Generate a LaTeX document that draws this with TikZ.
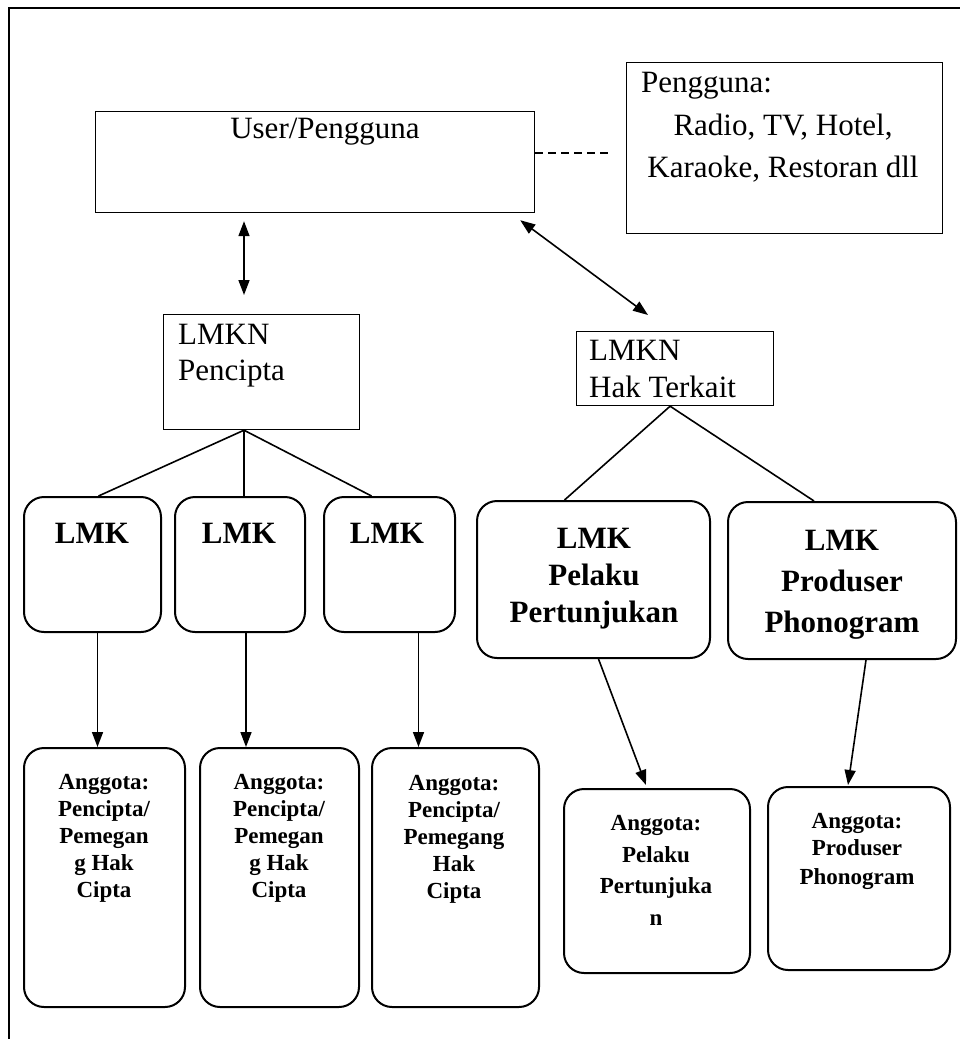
\documentclass[tikz,border=0pt]{standalone}
\usepackage{fontspec}
\setmainfont{Liberation Serif}
\usetikzlibrary{arrows.meta,calc}
\begin{document}
\begin{tikzpicture}[x=1pt,y=-1pt,
  sq/.style={draw,line width=1.2pt,inner sep=0pt,anchor=north west},
  rd/.style={draw,line width=2pt,rounded corners=20pt,inner sep=0pt,anchor=north west},
  big/.style={font=\fontsize{31}{36}\selectfont,inner sep=0pt},
  bigb/.style={font=\fontsize{31}{36}\selectfont\bfseries,inner sep=0pt,anchor=base},
  small/.style={font=\fontsize{23}{27}\selectfont\bfseries,inner sep=0pt,anchor=base},
  conn/.style={line width=1.6pt},
  arr/.style={line width=1.6pt,-{Triangle[length=15pt,width=11pt]}},
  darr/.style={line width=1.6pt,{Triangle[length=15pt,width=11pt]}-{Triangle[length=15pt,width=11pt]}},
]
\useasboundingbox (0,0) rectangle (960,1039);
\fill[white] (0,0) rectangle (960,1039);
\draw[line width=1.2pt] (9,1039) -- (9,8) -- (960,8);

% boxes
\node[sq,minimum width=439pt,minimum height=101pt] (user) at (95,111) {};
\node[sq,minimum width=316pt,minimum height=171pt] (peng) at (626,62) {};
\node[sq,minimum width=196pt,minimum height=115pt] (pen) at (163,314) {};
\node[sq,minimum width=197pt,minimum height=74pt] (hak) at (576,331) {};
\node[rd,minimum width=137pt,minimum height=135pt] (lmk1) at (23,496) {};
\node[rd,minimum width=130pt,minimum height=135pt] (lmk2) at (174,496) {};
\node[rd,minimum width=131pt,minimum height=135pt] (lmk3) at (323,496) {};
\node[rd,minimum width=233pt,minimum height=157pt] (pel) at (476,500) {};
\node[rd,minimum width=228pt,minimum height=157pt] (pro) at (727,501) {};
\node[rd,minimum width=161pt,minimum height=259pt] (a1) at (23,747) {};
\node[rd,minimum width=159pt,minimum height=259pt] (a2) at (199,747) {};
\node[rd,minimum width=167pt,minimum height=259pt] (a3) at (371,747) {};
\node[rd,minimum width=186pt,minimum height=184pt] (a4) at (563,788) {};
\node[rd,minimum width=182pt,minimum height=183pt] (a5) at (767,786) {};

% texts
\node[big,anchor=base] (tuser) at (325,138) {User/Pengguna};
\node[big,anchor=base west] (tpeng1) at (641,92) {Pengguna:};
\node[big,anchor=base] (tpeng2) at (783,135) {Radio, TV, Hotel,};
\node[big,anchor=base] (tpeng3) at (783,177) {Karaoke, Restoran dll};
\node[big,anchor=base west] (tpen1) at (178,344) {LMKN};
\node[big,anchor=base west] (tpen2) at (178,380) {Pencipta};
\node[big,anchor=base west] (thak1) at (589,360) {LMKN};
\node[big,anchor=base west] (thak2) at (589,397) {Hak Terkait};
\node[bigb] (tl1) at (92,543) {LMK};
\node[bigb] (tl2) at (239,543) {LMK};
\node[bigb] (tl3) at (387,543) {LMK};
\node[bigb] (tpel1) at (594,548) {LMK};
\node[bigb] (tpel2) at (594,585) {Pelaku};
\node[bigb] (tpel3) at (594,622) {Pertunjukan};
\node[bigb] (tpro1) at (842,550) {LMK};
\node[bigb] (tpro2) at (842,591) {Produser};
\node[bigb] (tpro3) at (842,632) {Phonogram};

\node[small] (ta1a) at (104,789) {Anggota:};
\node[small] (ta1b) at (104,816) {Pencipta/};
\node[small] (ta1c) at (104,843) {Pemegan};
\node[small] (ta1d) at (104,870) {g Hak};
\node[small] (ta1e) at (104,897) {Cipta};
\node[small] (ta2a) at (279,789) {Anggota:};
\node[small] (ta2b) at (279,816) {Pencipta/};
\node[small] (ta2c) at (279,843) {Pemegan};
\node[small] (ta2d) at (279,870) {g Hak};
\node[small] (ta2e) at (279,897) {Cipta};
\node[small] (ta3a) at (454,790) {Anggota:};
\node[small] (ta3b) at (454,817) {Pencipta/};
\node[small] (ta3c) at (454,844) {Pemegang};
\node[small] (ta3d) at (454,871) {Hak};
\node[small] (ta3e) at (454,898) {Cipta};
\node[small] (ta4a) at (656,830) {Anggota:};
\node[small] (ta4b) at (656,862) {Pelaku};
\node[small] (ta4c) at (656,893) {Pertunjuka};
\node[small] (ta4d) at (656,925) {n};
\node[small] (ta5a) at (857,828) {Anggota:};
\node[small] (ta5b) at (857,855) {Produser};
\node[small] (ta5c) at (857,884) {Phonogram};

% connectors
\draw[darr] ($(user.south west)+(149,8)$) -- ($(pen.north west)+(81,-19)$);
\draw[darr] ($(user.south east)+(-15,7)$) -- ($(hak.north west)+(72,-16)$);
\coordinate (dend) at ($(peng.west)+(-14,5)$);
\draw[line width=1.5pt,dash pattern=on 8pt off 5pt] (user.east |- dend) -- (dend);

\coordinate (pj) at ($(pen.south west)+(81,0)$);
\draw[conn] ($(lmk1.north)+(6,0)$) -- (pj) -- ($(lmk3.north)+(-18,0)$);
\draw[conn] (pj) -- (pj |- lmk2.north);
\coordinate (hj) at ($(hak.south)+(-5,0)$);
\draw[conn] ($(pel.north)+(-29,0)$) -- (hj) -- ($(pro.north)+(-28,0)$);

\coordinate (s1) at ($(lmk1.south)+(5,0)$);
\draw[arr] (s1) -- (s1 |- a1.north);
\coordinate (s2) at ($(lmk2.south)+(6,0)$);
\draw[arr] (s2) -- (s2 |- a2.north);
\coordinate (s3) at ($(lmk3.south)+(29,0)$);
\draw[arr] (s3) -- (s3 |- a3.north);
\draw[arr] ($(pel.south)+(5,0)$) -- ($(a4.north)+(-11,-3)$);
\draw[arr] ($(pro.south)+(24,0)$) -- ($(a5.north)+(-11,-1)$);
\end{tikzpicture}
\end{document}
